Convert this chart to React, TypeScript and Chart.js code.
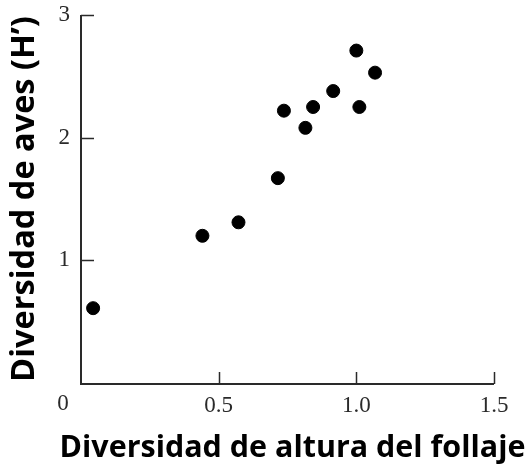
import React, { useEffect, useRef } from "react";
import { Chart, registerables } from "chart.js";

Chart.register(...registerables);

const foliageDiversity = [0.044, 0.441, 0.572, 0.715, 0.737, 0.815, 0.843, 0.916, 1.0, 1.011, 1.068];
const birdDiversity = [0.61, 1.2, 1.31, 1.67, 2.22, 2.08, 2.25, 2.38, 2.71, 2.25, 2.53];
const xTicks = [0, 0.5, 1.0, 1.5];
const yTicks = [1, 2, 3];
const xTitle = "Diversidad de altura del follaje";
const yTitle = "Diversidad de aves (H’)";

const AXIS_COLOR = "#2a2a2a";
const TICK_FAMILY = "'Liberation Serif', 'DejaVu Serif', serif";
const TICK_SIZE = 23;
const TITLE_FAMILY = "'Open Sans', 'Noto Sans', sans-serif";

const axisDecor = {
  id: "axisDecor",
  afterDraw(chart: any) {
    const { ctx, scales } = chart;
    const xs = scales.x;
    const ys = scales.y;
    const ax = xs.getPixelForValue(0);
    const ay = ys.getPixelForValue(0);
    ctx.save();
    ctx.strokeStyle = AXIS_COLOR;
    ctx.lineWidth = 2;
    ctx.beginPath();
    ctx.moveTo(ax, ys.getPixelForValue(3));
    ctx.lineTo(ax, ay + 1);
    ctx.lineTo(xs.getPixelForValue(1.5), ay + 1);
    ctx.stroke();
    ctx.lineWidth = 1.5;
    ctx.beginPath();
    yTicks.forEach((v) => {
      const py = Math.round(ys.getPixelForValue(v)) + 0.5;
      ctx.moveTo(ax, py);
      ctx.lineTo(ax + 13, py);
    });
    xTicks.slice(1).forEach((v) => {
      const px = Math.round(xs.getPixelForValue(v)) + 0.5;
      ctx.moveTo(px, ay + 1);
      ctx.lineTo(px, ay - 11);
    });
    ctx.stroke();
    ctx.fillStyle = "#2a2a2a";
    ctx.font = `${TICK_SIZE}px ${TICK_FAMILY}`;
    ctx.textAlign = "center";
    ctx.textBaseline = "middle";
    ctx.fillText("0", ax - 18, ay + 21);
    // x-axis title (wider than the plot area, as in the original)
    ctx.fillStyle = "#000";
    ctx.font = `bold 31px ${TITLE_FAMILY}`;
    ctx.textAlign = "center";
    ctx.textBaseline = "alphabetic";
    ctx.fillText(xTitle, (xs.left + xs.right) / 2 + 5, 457, 466);
    ctx.restore();
  },
};

export default function App() {
  const canvasRef = useRef<HTMLCanvasElement | null>(null);

  useEffect(() => {
    if (!canvasRef.current) return;
    const chart = new Chart(canvasRef.current, {
      type: "scatter",
      data: {
        datasets: [
          {
            data: foliageDiversity.map((x, i) => ({ x, y: birdDiversity[i] })),
            backgroundColor: "#000",
            borderColor: "#000",
            pointRadius: 6.5,
            pointHoverRadius: 6.5,
          },
        ],
      },
      options: {
        responsive: false,
        animation: false,
        events: [],
        layout: { padding: { top: 15, right: 38, left: 0, bottom: 0 } },
        plugins: { legend: { display: false }, tooltip: { enabled: false } },
        scales: {
          x: {
            type: "linear",
            min: 0,
            max: 1.5,
            afterFit: (s: any) => {
              s.height = 82;
              s.paddingLeft = 0;
              s.paddingRight = 0;
            },
            afterBuildTicks: (s: any) => {
              s.ticks = xTicks.map((v) => ({ value: v }));
            },
            border: { display: false },
            grid: { display: false, drawTicks: false },
            ticks: {
              padding: 9,
              color: "#2a2a2a",
              font: { family: TICK_FAMILY, size: TICK_SIZE },
              callback: (v: any) => (v === 0 ? "" : Number(v).toFixed(1)),
            },
            title: { display: false, text: xTitle },
          },
          y: {
            type: "linear",
            min: 0,
            max: 3,
            afterFit: (s: any) => {
              s.width = 81;
              s.paddingTop = 0;
              s.paddingBottom = 0;
            },
            afterBuildTicks: (s: any) => {
              s.ticks = yTicks.map((v) => ({ value: v }));
            },
            border: { display: false },
            grid: { display: false, drawTicks: false },
            ticks: {
              padding: 11,
              color: "#2a2a2a",
              font: { family: TICK_FAMILY, size: TICK_SIZE },
              callback: (v: any) => String(v),
            },
            title: {
              display: true,
              text: yTitle,
              color: "#000",
              font: { family: TITLE_FAMILY, size: 32.5, weight: "bold" },
              padding: { top: 5, bottom: 0 },
            },
          },
        },
      },
      plugins: [axisDecor],
    });
    return () => chart.destroy();
  }, []);

  return (
    <div style={{ position: "absolute", left: 0, top: 0, width: 532, height: 465, background: "#fff" }}>
      <canvas ref={canvasRef} width={532} height={465} style={{ width: 532, height: 465, display: "block" }} />
    </div>
  );
}
